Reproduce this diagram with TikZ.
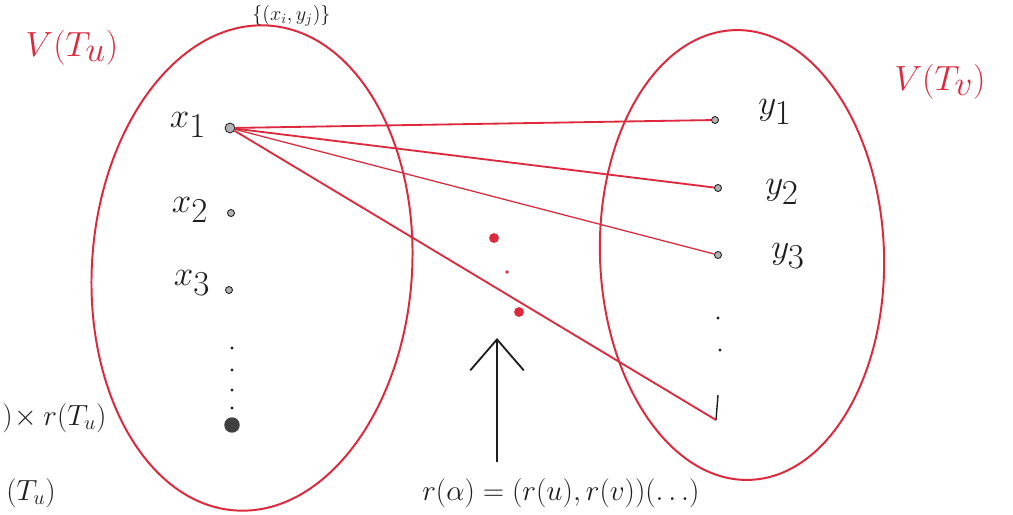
\documentclass[tikz,border=0pt]{standalone}
\usetikzlibrary{arrows.meta}
\definecolor{penred}{RGB}{222,40,60}
\definecolor{penblack}{RGB}{30,30,30}
\begin{document}
\begin{tikzpicture}[x=0.025cm,y=-0.025cm,
  redline/.style={draw=penred, line width=1.3pt},
  blob/.style={draw=penred, line width=1.4pt},
  vdot/.style={circle, draw=penblack, fill=gray!60, line width=0.6pt, inner sep=0pt, minimum size=5pt},
  tinydot/.style={circle, fill=penblack, inner sep=0pt, minimum size=2.4pt},
  reddot/.style={circle, fill=penred, inner sep=0pt, minimum size=2.8pt},
  lab/.style={text=penblack, font=\fontsize{40}{44}\selectfont, inner sep=0pt},
  edgelab/.style={text=penblack, font=\fontsize{20}{24}\selectfont, inner sep=0pt},
  redlab/.style={text=penred, font=\fontsize{44}{48}\selectfont, inner sep=0pt}]
\useasboundingbox (0,0) rectangle (1013,514);
\fill[white] (0,0) rectangle (1013,514);
% sets
\draw[blob, rotate around={-4:(252,268)}] (252,268) ellipse [x radius=160, y radius=243];
\draw[blob, rotate around={2:(742,255)}] (742,255) ellipse [x radius=142, y radius=225];
\node[redlab] (VTu) at (72,48) {$V(T_u)$};
\node[redlab] (VTv) at (940,82) {$V(T_v)$};
% left vertices
\node[lab] (lx1) at (188,125) {$x_1$};
\node[lab] (lx2) at (190,210) {$x_2$};
\node[lab] (lx3) at (192,283) {$x_3$};
\node[vdot, minimum size=7pt] (x1) at (230,128) {};
\node[vdot] (x2) at (231,213) {};
\node[vdot] (x3) at (229,290) {};
\node[tinydot] (ld1) at (232,348) {};
\node[tinydot] (ld2) at (232,370) {};
\node[tinydot] (ld3) at (232,390) {};
\node[tinydot] (ld4) at (232,408) {};
\node[circle, fill=penblack!85, inner sep=0pt, minimum width=8pt, minimum height=11pt] (xn) at (232,425) {};
% right vertices
\node[lab] (ly1) at (775,112) {$y_1$};
\node[lab] (ly2) at (782,192) {$y_2$};
\node[lab] (ly3) at (788,256) {$y_3$};
\node[vdot] (y1) at (715,120) {};
\node[vdot] (y2) at (718,188) {};
\node[vdot] (y3) at (718,255) {};
\node[tinydot] (rd1) at (718,318) {};
\node[tinydot] (rd2) at (720,350) {};
\coordinate (yn) at (716,420);
\draw[penblack, line width=1pt] (718,395) -- (yn);
% edges
\draw[redline] (x1) -- (y1);
\draw[redline] (x1) -- (y2);
\draw[redline, line width=0.9pt] (x1) -- (y3);
\draw[redline] (x1) -- (yn);
% red ellipsis in the middle
\node[reddot, minimum height=7pt] (m1) at (494,238) {};
\node[reddot] (m2) at (507,272) {};
\node[reddot, minimum height=7pt] (m3) at (519,312) {};
% arrow
\coordinate (abot) at (497,462);
\coordinate (atop) at (497,338);
\draw[penblack, line width=1.3pt, -{Straight Barb[length=22pt,width=38pt]}] (abot) -- (atop);
% texts at the edges
\node[edgelab, anchor=west, font=\fontsize{21}{25}\selectfont] (lefttxt) at (2,418) {$)\!\times r(T_u)$};
\node[edgelab, anchor=south west] (lefttxt2) at (6,508) {$(T_u)$};
\node[edgelab, anchor=south west, font=\fontsize{22}{26}\selectfont] (bottxt) at (422,508) {$r(\alpha)=(r(u),r(v))(\ldots)$};
\node[edgelab, anchor=north west, font=\fontsize{14}{16}\selectfont] (toptxt) at (252,5) {$\{(x_i,y_j)\}$};
\end{tikzpicture}
\end{document}
